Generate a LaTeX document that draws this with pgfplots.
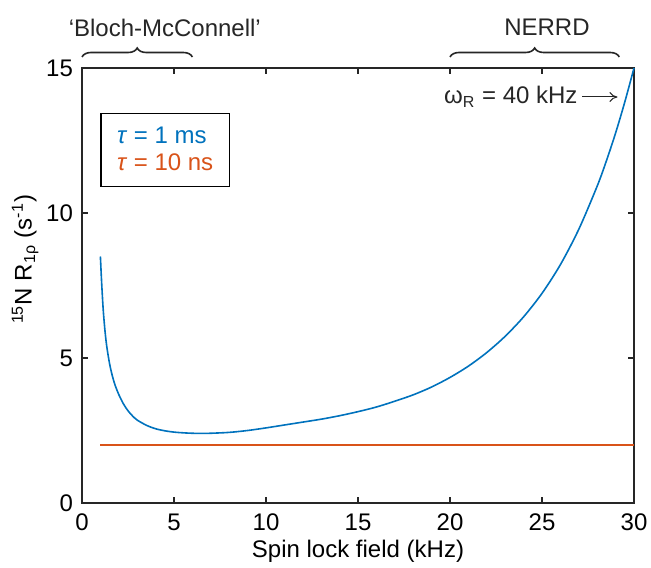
\documentclass[border=0pt]{standalone}
\usepackage{fontspec}
\setmainfont{Liberation Sans}
\usepackage{pgfplots}
\pgfplotsset{compat=1.18}
\usetikzlibrary{decorations.pathreplacing,arrows.meta}
\definecolor{mblue}{RGB}{0,114,189}
\definecolor{morange}{RGB}{217,83,25}
\begin{document}
\begin{tikzpicture}[font=\fontsize{12}{14.4}\selectfont]
\useasboundingbox (-41pt,-32pt) rectangle (284.5pt,251.5pt);
\begin{axis}[
  at={(0,0)}, anchor=south west,
  scale only axis, width=276pt, height=217.5pt,
  xmin=0, xmax=30, ymin=0, ymax=15,
  xtick={0,5,...,30}, ytick={0,5,10,15},
  tick align=inside, major tick length=3pt,
  axis line style={line width=0.6pt, black!85},
  every tick/.style={line width=0.6pt, black!85},
  /pgf/number format/assume math mode=true,
  xticklabel style={yshift=-2pt},
  yticklabel style={xshift=-1pt},
  xlabel={Spin lock field (kHz)},
  ylabel={\textsuperscript{15}N R\textsubscript{1ρ} (s\textsuperscript{-1})},
  xlabel style={at={(axis description cs:0.5,-0.1264)}, anchor=base},
  ylabel style={at={(axis description cs:-0.103,0.56)}, anchor=center},
  clip=false,
  legend style={at={(axis cs:1.0,13.45)}, anchor=north west, draw=black, line width=0.6pt,
    inner xsep=6pt, inner ysep=4.5pt, row sep=0pt, font=\fontsize{12}{14.4}\selectfont},
  legend cell align=left,
]
\addplot[mblue, line width=0.8pt, smooth, legend image code/.code={}] coordinates {
(1.0,8.5) (1.05,7.82) (1.1,7.22) (1.16,6.6) (1.25,5.93) (1.35,5.38) (1.5,4.8)
(1.65,4.38) (1.8,4.06) (2.0,3.74) (2.25,3.42) (2.5,3.18) (2.75,3.0) (3.0,2.86)
(3.5,2.68) (4.0,2.56) (4.5,2.49) (5.0,2.445) (5.5,2.42) (6.0,2.405) (6.5,2.40)
(7.0,2.405) (8.0,2.435) (9.0,2.50) (10.0,2.59) (11.0,2.69) (12.0,2.79) (13.0,2.89)
(14.0,3.01) (15.0,3.15) (16.0,3.31) (17.0,3.51) (18.0,3.73) (19.0,4.00) (20.0,4.33)
(21.0,4.72) (22.0,5.19) (23.0,5.75) (24.0,6.42) (25.0,7.23) (26.0,8.22) (27.0,9.44)
(28.0,10.93) (28.5,11.80) (29.0,12.76) (29.5,13.83) (30.0,15.0)
};
\addlegendentry{\textcolor{mblue}{\textit{τ} = 1 ms}}
\addplot[morange, line width=0.8pt, legend image code/.code={}] coordinates {
(1,2) (30,2)
};
\addlegendentry{\textcolor{morange}{\textit{τ} = 10 ns}}
\draw[decorate, decoration={brace, amplitude=4.5pt}, line width=0.8pt, black!85]
  ([yshift=5.5pt]axis cs:0,15) -- ([yshift=5.5pt]axis cs:6,15);
\draw[decorate, decoration={brace, amplitude=4.5pt}, line width=0.8pt, black!85]
  ([yshift=5.5pt]axis cs:20,15) -- ([yshift=5.5pt]axis cs:29.2,15);
\node[black!85] at ([yshift=20pt]axis cs:4.5,15) {‘Bloch-McConnell’};
\node[black!85] at ([yshift=20.5pt]axis cs:25.27,15) {NERRD};
\node[black!85, anchor=east, inner sep=0pt] at (axis cs:26.95,14.0) {ω\textsubscript{R} = 40 kHz};
\draw[-{To[length=4pt,width=5pt]}, line width=0.5pt, black!85] (axis cs:27.2,14.0) -- (axis cs:29.1,14.0);
\end{axis}
\end{tikzpicture}
\end{document}
